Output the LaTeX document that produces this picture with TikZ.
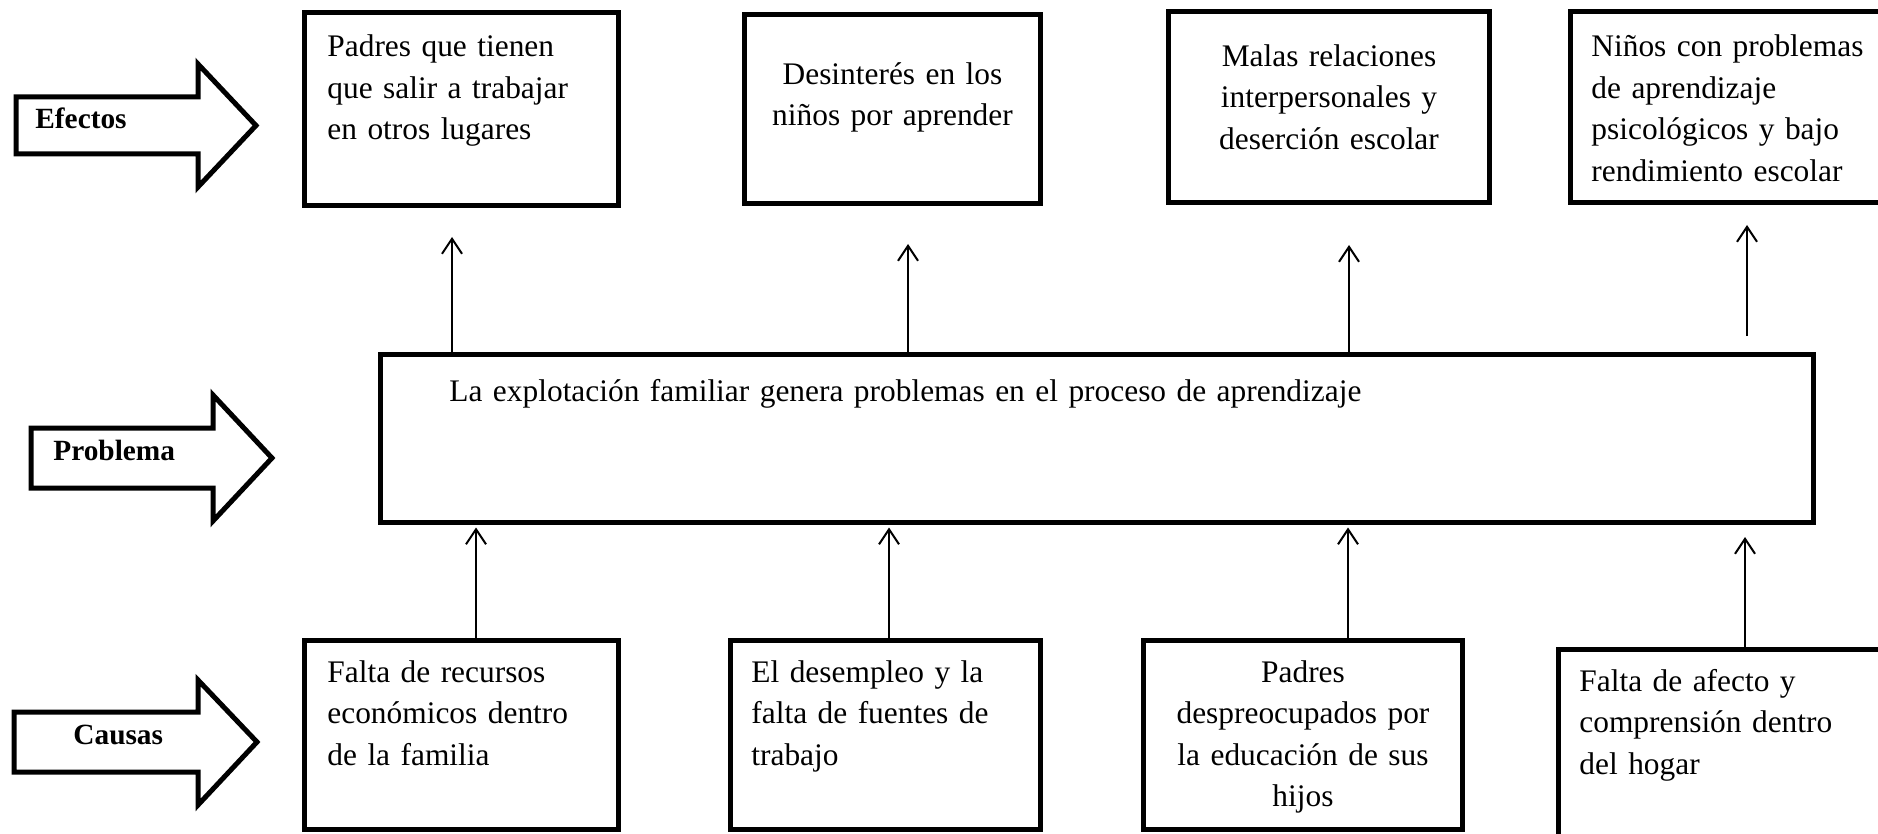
\documentclass[tikz,border=0pt]{standalone}
\usepackage{fontspec}
\setmainfont{Liberation Serif}
\usetikzlibrary{arrows.meta}
\tikzset{
  boxst/.style={draw, line width=2.5pt, inner sep=0pt},
  txt/.style={inner sep=0pt, text width=#1, align=left, anchor=base west,
    font=\fontsize{15.7}{20.75}\selectfont},
  txt/.default=180pt,
  ctxt/.style={inner sep=0pt, text width=#1, align=center, anchor=base,
    font=\fontsize{15.7}{20.75}\selectfont},
  ctxt/.default=180pt,
  lbl/.style={inner sep=0pt, anchor=base west,
    font=\fontsize{14.67}{17}\selectfont\bfseries},
  bigarrow/.style={draw, line width=2.5pt, line join=miter},
  conn/.style={line width=1pt, -{Straight Barb[length=7.5pt,width=10pt]}}
}
\begin{document}
\begin{tikzpicture}[x=0.5pt,y=-0.5pt]
\clip (0,0) rectangle (1878,834);
\fill[white] (0,0) rectangle (1878,834);

% big arrows
\draw[bigarrow] (16,97)--(198,97)--(198,64)--(256,125.5)--(198,187)--(198,154)--(16,154)--cycle;
\draw[bigarrow] (31,428)--(213,428)--(213,395)--(272,458)--(213,521)--(213,488)--(31,488)--cycle;
\draw[bigarrow] (14,712)--(198,712)--(198,680)--(257,742)--(198,805)--(198,772)--(14,772)--cycle;
\node[lbl] (lefe) at (35,129) {Efectos};
\node[lbl] (lpro) at (53,460) {Problema};
\node[lbl] (lcau) at (73,744) {Causas};

% effect boxes
\node[boxst, minimum width=157pt, minimum height=96.5pt] (e1) at (461.5,109) {};
\node[boxst, minimum width=148pt, minimum height=94.5pt] (e2) at (892.5,109) {};
\node[boxst, minimum width=160.5pt, minimum height=95.5pt] (e3) at (1329,107) {};
\node[boxst, minimum width=163.5pt, minimum height=95.5pt] (e4) at (1734,107) {};
\node[txt] (te1) at (327,57) {Padres que tienen\\que salir a trabajar\\en otros lugares};
\node[ctxt] (te2) at (892.5,84.5) {Desinterés en los\\niños por aprender};
\node[ctxt] (te3) at (1329,66.5) {Malas relaciones\\interpersonales y\\deserción escolar};
\node[txt] (te4) at (1591,57) {Niños con problemas\\de aprendizaje\\psicológicos y bajo\\rendimiento escolar};

% problem box
\node[boxst, minimum width=716.5pt, minimum height=84pt] (pb) at (1097,438.5) {};
\node[txt=600pt] (tpb) at (449,401) {La explotación familiar genera problemas en el proceso de aprendizaje};

% cause boxes
\node[boxst, minimum width=157pt, minimum height=94.5pt] (c1) at (461.5,735) {};
\node[boxst, minimum width=155pt, minimum height=94.5pt] (c2) at (885.5,735) {};
\node[boxst, minimum width=159.5pt, minimum height=94.5pt] (c3) at (1303,735) {};
\node[boxst, minimum width=169.5pt, minimum height=109pt] (c4) at (1728,758.5) {};
\node[txt] (tc1) at (327,682) {Falta de recursos\\económicos dentro\\de la familia};
\node[txt] (tc2) at (751,682) {El desempleo y la\\falta de fuentes de\\trabajo};
\node[ctxt] (tc3) at (1303,682) {Padres\\despreocupados por\\la educación de sus\\hijos};
\node[txt] (tc4) at (1579,691) {Falta de afecto y\\comprensión dentro\\del hogar};

% effect arrows
\coordinate (a1) at (452,237);
\coordinate (a2) at (908,244);
\coordinate (a3) at (1349,245);
\coordinate (a4s) at (1747,336);
\coordinate (a4) at (1747,225);
\draw[conn] (pb.north -| a1) -- (a1);
\draw[conn] (pb.north -| a2) -- (a2);
\draw[conn] (pb.north -| a3) -- (a3);
\draw[conn] (a4s) -- (a4);

% cause arrows
\coordinate (bx1) at (476,600);
\coordinate (bx2) at (889,600);
\coordinate (bx3) at (1348,600);
\coordinate (b4) at (1745,537);
\draw[conn, shorten >=1.25pt] (c1.north -| bx1) -- (pb.south -| bx1);
\draw[conn, shorten >=1.25pt] (c2.north -| bx2) -- (pb.south -| bx2);
\draw[conn, shorten >=1.25pt] (c3.north -| bx3) -- (pb.south -| bx3);
\draw[conn] (c4.north -| b4) -- (b4);
\end{tikzpicture}
\end{document}
